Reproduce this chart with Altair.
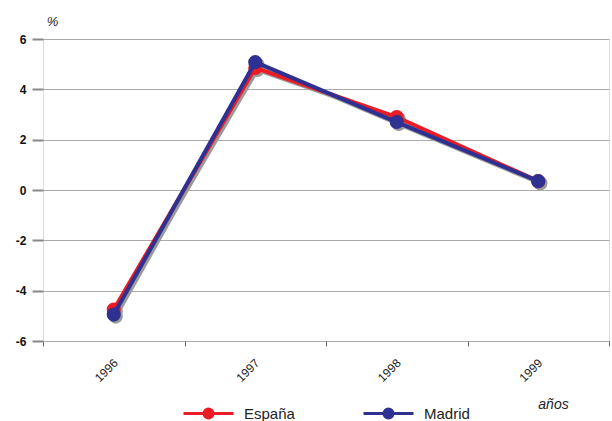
import altair as alt
import pandas as pd

years = ["1996", "1997", "1998", "1999"]
espana = [-4.75, 4.85, 2.9, 0.35]
madrid = [-4.95, 5.08, 2.7, 0.35]
series = ["España", "Madrid"]
colors = ["#ec1c24", "#2e3192"]
y_ticks = [-6, -4, -2, 0, 2, 4, 6]

rows = []
for i, y in enumerate(years):
    rows.append({"year": y, "serie": "España", "value": espana[i]})
    rows.append({"year": y, "serie": "Madrid", "value": madrid[i]})
df = pd.DataFrame(rows)

sym = "M-1.5,0H1.5M-0.27,0A0.27,0.27 0 1,0 0.27,0A0.27,0.27 0 1,0 -0.27,0Z"

x_enc = alt.X(
    "year:O",
    scale=alt.Scale(type="band", paddingInner=0, paddingOuter=0),
    axis=alt.Axis(
        title="años", titleFontStyle="italic", titleFontWeight="normal", titleFontSize=14,
        titleX=510, titleY=67, titleBaseline="alphabetic", titleAlign="center",
        titleColor="#222",
        labelAngle=-45, labelFontSize=12, labelColor="#222", labelPadding=11,
        labelOffset=-2,
        tickBand="extent", tickSize=5, tickColor="#666", tickWidth=1,
        domain=False, grid=False,
    ),
)
y_enc = alt.Y(
    "value:Q",
    scale=alt.Scale(domain=[-6, 6], nice=False, zero=False),
    axis=alt.Axis(
        values=y_ticks, title="%", titleAngle=0, titleFontStyle="italic",
        titleFontWeight="normal", titleFontSize=13, titleX=9, titleY=-14,
        titleAlign="center", titleBaseline="alphabetic", titleColor="#222",
        labelExpr="toString(datum.value)",
        labelFontWeight="bold", labelFontSize=12, labelColor="#111", labelPadding=6,
        tickSize=11, tickColor="#888", tickWidth=2,
        grid=True, gridColor="#aaa", gridWidth=1, domain=False,
    ),
)

base = alt.Chart(df)

shadow_line = base.mark_line(strokeWidth=4, color="#9a9a9a", xOffset=2, yOffset=2).encode(
    x=x_enc, y=y_enc, detail="serie:N"
)
shadow_pt = base.mark_point(filled=True, size=200, color="#9a9a9a", opacity=1, xOffset=2, yOffset=2).encode(
    x=x_enc, y=y_enc
)

color_enc = alt.Color(
    "serie:N",
    scale=alt.Scale(domain=series, range=colors),
    legend=alt.Legend(
        title=None, orient="none", legendX=147, legendY=356, direction="horizontal",
        symbolType=sym, symbolSize=1111, symbolStrokeWidth=3, labelFontSize=15,
        labelFontWeight="normal",
        labelColor="#222", labelOffset=17, columnPadding=62,
    ),
)

layers = []
for s in series:
    sub = base.transform_filter(alt.datum.serie == s)
    layers.append(sub.mark_line(strokeWidth=4).encode(x=x_enc, y=y_enc, color=color_enc))
    layers.append(sub.mark_point(filled=True, size=200, opacity=1).encode(x=x_enc, y=y_enc, color=color_enc))

chart = alt.layer(shadow_line, shadow_pt, *layers).properties(
    width=566, height=302,
    autosize=alt.AutoSizeParams(type="none"),
    padding={"left": 43, "top": 39, "right": 3, "bottom": 80},
).configure_view(stroke=None).configure(font="Liberation Sans")

chart.save("out.html", embed_options={"renderer": "svg", "actions": False})
